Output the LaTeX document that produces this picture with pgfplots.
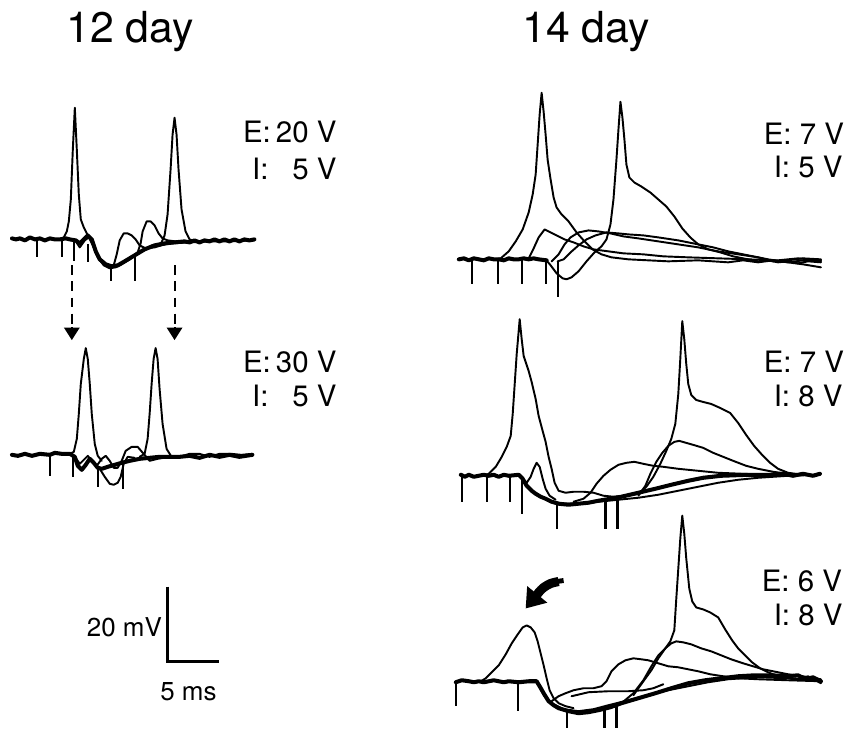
\documentclass[border=0pt]{standalone}
\usepackage{pgfplots}
\pgfplotsset{compat=1.18}
\usetikzlibrary{arrows.meta}
\usepackage{fontspec}
\setmainfont{TeX Gyre Heros}
\pgfplotsset{
  tr/.style={black, line width=0.55pt, line join=round, line cap=round, mark=none},
  trb/.style={black, line width=1.15pt, line join=round, line cap=round, mark=none},
  stim/.style={black, line width=0.6pt, mark=none},
}
\newcommand{\lab}[3]{\node[anchor=base west, inner sep=0pt, font=\fontsize{8.4}{10}\selectfont] at (axis cs:#1,#2) {#3};}
\newcommand{\labr}[3]{\node[anchor=base east, inner sep=0pt, font=\fontsize{8.4}{10}\selectfont] at (axis cs:#1,#2) {#3};}
\newcommand{\stimtick}[3]{\addplot[stim] coordinates {(#1,#2) (#1,#3)};}
\begin{document}
\begin{tikzpicture}
\begin{axis}[
  width=8.44cm, height=7.30cm, scale only axis,
  xmin=0, xmax=844, ymin=0, ymax=730, y dir=reverse,
  hide axis, clip=false,
]
\addplot[draw=none] coordinates {(0,0) (844,730)};

% ================= 12 day, top =================
\addplot[trb] coordinates {(12,239) (16,240) (20,239) (25,241) (30,238) (35,240) (40,239) (45,241) (50,239) (55,240) (60,240) (66,239) (70,240) (76,241) (80,244) (84,240) (88,236) (92,240) (96,252) (100,260) (106,265) (112,267) (118,266) (125,262) (135,256) (145,250) (155,246) (165,244) (175,243) (185,242) (190,243) (195,241) (200,243) (205,241) (210,242) (215,240) (220,242) (225,240) (230,242) (235,240) (240,242) (245,240) (250,241) (255,240)};
\addplot[tr] coordinates {(76,242) (80,248) (85,241) (89,238) (93,246) (98,258) (104,266) (110,269) (116,268) (122,265) (130,260) (140,253) (150,248) (160,246) (172,244) (190,243) (210,242) (230,242) (255,241)};
\addplot[tr] coordinates {(60,240) (64,238) (67,232) (69,222) (71,200) (73,150) (75,108) (77,150) (79,195) (81,220) (84,228) (88,236) (92,242) (96,252)};
\addplot[tr] coordinates {(152,246) (158,246) (162,243) (165,236) (168,215) (171,170) (173,135) (175,118) (177,135) (179,170) (182,210) (186,232) (190,240) (196,242)};
\addplot[tr] coordinates {(108,268) (114,266) (117,255) (120,241) (124,234) (128,234) (132,236) (136,240) (140,246) (146,249) (155,248) (165,245)};
\addplot[tr] coordinates {(118,266) (130,260) (138,253) (141,244) (143,232) (147,222) (151,222) (155,226) (159,234) (163,239) (168,241) (176,242)};
\stimtick{37}{240}{258}
\stimtick{62}{240}{258}
\stimtick{74}{241}{262}
\stimtick{88}{245}{263}
\stimtick{111}{267}{282}
\stimtick{135}{255}{282}
% dashed arrows
\addplot[black, line width=0.6pt, dash pattern=on 2.8pt off 1.8pt, mark=none] coordinates {(72,266) (72,330)};
\addplot[black, line width=0.6pt, dash pattern=on 2.8pt off 1.8pt, mark=none] coordinates {(175,266) (175,330)};
\addplot[black, line width=0.6pt, -{Triangle[length=3.6pt,width=4.4pt]}, mark=none] coordinates {(72,328) (72,341)};
\addplot[black, line width=0.6pt, -{Triangle[length=3.6pt,width=4.4pt]}, mark=none] coordinates {(175,328) (175,341)};
\lab{243}{143}{E:}
\labr{338}{143}{20 V}
\lab{252}{180}{I:}
\labr{338}{180}{5 V}

% ================= 12 day, bottom =================
\addplot[trb] coordinates {(12,456) (18,457) (25,455) (32,457) (40,455) (50,456) (55,454) (62,455) (70,455) (75,458) (78,467) (82,471) (86,466) (90,460) (94,464) (98,469) (102,470) (108,468) (115,466) (122,464) (130,462) (140,460) (150,459) (160,458) (170,458) (180,458) (190,457) (200,459) (210,456) (220,458) (230,456) (240,458) (253,456)};
\addplot[tr] coordinates {(180,458) (190,455) (200,455) (210,458) (220,455) (232,455) (242,456) (253,455)};
\addplot[tr] coordinates {(70,455) (74,453) (77,440) (79,415) (81,385) (84,360) (86,349) (88,360) (90,385) (92,415) (95,445) (98,457) (102,462)};
\addplot[tr] coordinates {(140,458) (145,455) (148,440) (150,415) (152,385) (154,360) (156,349) (158,360) (160,390) (163,425) (167,450) (172,458) (178,459)};
\addplot[tr] coordinates {(75,458) (80,465) (85,460) (88,457) (92,462) (97,467) (102,460) (106,457) (110,462) (114,469) (118,469) (122,462) (126,452) (132,448) (138,448) (144,455) (150,462) (158,460) (170,458)};
\addplot[tr] coordinates {(95,466) (100,470) (105,478) (110,485) (114,486) (118,484) (121,478) (124,465) (128,458) (135,459)};
\stimtick{50}{456}{477}
\stimtick{73}{455}{478}
\stimtick{98}{470}{488}
\stimtick{123}{464}{490}
\lab{243}{373}{E:}
\labr{338}{373}{30 V}
\lab{252}{408}{I:}
\labr{338}{408}{5 V}

% ================= scale bar =================
\addplot[black, line width=0.8pt, mark=none] coordinates {(168,588) (168,663) (220,663)};
\node[anchor=base east, inner sep=0pt, font=\fontsize{7.4}{9}\selectfont] at (axis cs:163,638) {20 mV};
\node[anchor=base west, inner sep=0pt, font=\fontsize{7.4}{9}\selectfont] at (axis cs:160,702) {5 ms};

% ================= 14 day, top =================
\addplot[trb] coordinates {(460,260) (465,259) (470,261) (475,259) (480,260) (485,261) (490,259) (495,260) (500,260) (505,261) (510,259) (515,260) (520,260) (525,259) (530,260) (535,259) (540,260) (548,261)};
\addplot[tr] coordinates {(495,260) (502,259) (510,252) (517,242) (524,230) (530,213) (534,195) (537,175) (539,145) (541,115) (543,93) (545,112) (547,135) (549,160) (552,180) (555,198) (558,208) (563,215) (570,222) (578,233) (586,242) (594,250) (603,255) (613,258) (630,260) (650,261) (670,262) (700,261) (730,263) (745,261) (760,263) (775,261) (790,263) (805,261) (823,262)};
\addplot[tr] coordinates {(547,260) (552,266) (558,274) (564,279) (568,280) (573,278) (580,272) (588,262) (596,253) (603,247) (608,240) (612,225) (615,200) (618,160) (620,130) (622,102) (624,118) (626,140) (628,165) (631,178) (636,183) (643,187) (652,193) (660,200) (668,207) (676,217) (684,229) (692,238) (700,245) (710,250) (722,253) (735,257) (750,260) (760,262) (770,261) (780,263) (790,262) (800,264) (810,262) (823,263)};
\addplot[tr] coordinates {(525,260) (530,259) (535,249) (540,238) (546,230) (550,232) (558,236) (566,240) (575,243) (585,247) (595,250) (610,252) (625,254) (645,255) (665,257) (690,258) (720,259) (750,260) (780,261) (800,259) (823,261)};
\addplot[tr] coordinates {(553,262) (560,255) (566,245) (572,238) (580,233) (590,231) (600,232) (612,234) (625,237) (640,239) (660,242) (680,245) (700,248) (720,252) (740,255) (760,258) (775,262) (790,261) (805,259) (823,260)};
\addplot[tr] coordinates {(559,262) (565,260) (572,253) (580,246) (588,240) (597,236) (608,233) (620,234) (630,235) (645,236) (660,238) (680,241) (700,245) (715,248) (730,252) (750,256) (770,260) (790,263) (805,265) (823,268)};
\stimtick{473}{260}{285}
\stimtick{499}{260}{285}
\stimtick{523}{260}{285}
\stimtick{547}{260}{285}
\stimtick{559}{262}{298}
\lab{765}{145}{E: 7 V}
\lab{775}{178}{I: 5 V}

% ================= 14 day, middle =================
\addplot[trb] coordinates {(462,476) (466,478) (470,476) (475,478) (480,477) (485,476) (490,477) (495,476) (500,478) (505,476) (510,477) (520,476) (524,480) (528,487) (533,492) (537,495) (542,498) (547,500) (553,503) (560,505) (570,506) (580,505) (590,504) (600,502) (612,500) (623,498) (640,494) (657,490) (673,486) (690,482) (705,479) (723,477) (750,476) (773,476) (785,475) (795,477) (805,475) (815,477) (822,475)};
\addplot[tr] coordinates {(528,487) (537,496) (550,502) (565,505) (580,505) (600,503) (620,501) (640,499) (660,496) (680,492) (700,488) (720,484) (740,481) (760,479) (790,477) (822,476)};
\addplot[tr] coordinates {(485,477) (490,475) (497,468) (503,458) (508,448) (512,437) (514,415) (516,385) (518,355) (521,320) (523,340) (525,357) (527,363) (530,372) (533,383) (537,400) (540,417) (544,432) (547,443) (550,458) (553,470) (556,484) (560,492) (567,494) (575,493) (585,493) (595,494) (605,497) (615,498) (625,497)};
\addplot[tr] coordinates {(524,480) (528,484) (532,478) (535,470) (538,464) (541,468) (544,480) (547,490) (551,497) (557,501)};
\addplot[tr] coordinates {(575,503) (585,500) (592,494) (598,485) (605,477) (612,471) (620,466) (628,464) (636,463) (645,465) (655,467) (665,468) (680,470) (700,472) (720,474) (745,475) (770,476)};
\addplot[tr] coordinates {(630,497) (640,495) (648,488) (655,478) (662,465) (668,452) (673,440) (677,425) (680,395) (682,360) (684,322) (686,340) (688,365) (690,385) (693,396) (698,401) (705,403) (713,405) (722,409) (732,414) (740,424) (748,436) (756,447) (764,456) (772,464) (780,470) (790,474) (805,476) (822,476)};
\addplot[tr] coordinates {(640,497) (647,487) (652,475) (658,463) (664,454) (670,447) (676,443) (681,442) (688,444) (695,446) (705,449) (715,454) (725,458) (735,462) (748,467) (760,470) (775,473) (790,475)};
\stimtick{463}{477}{503}
\stimtick{488}{477}{503}
\stimtick{511}{477}{503}
\stimtick{523}{478}{515}
\stimtick{558}{503}{530}
\stimtick{607}{501}{530}
\stimtick{619}{498}{530}
\lab{765}{373}{E: 7 V}
\lab{775}{408}{I: 8 V}

% ================= 14 day, bottom =================
\addplot[trb] coordinates {(457,684) (463,682) (470,683) (475,684) (480,683) (485,684) (490,683) (495,682) (500,683) (505,684) (510,683) (520,684) (530,683) (538,683) (541,688) (545,695) (550,703) (555,707) (560,710) (570,713) (580,715) (590,714) (600,712) (612,709) (623,705) (640,700) (657,695) (673,690) (690,685) (707,682) (723,680) (740,678) (757,677) (773,677) (790,678) (800,677) (808,681) (815,679) (823,683)};
\addplot[tr] coordinates {(545,697) (553,705) (565,711) (580,713) (595,711) (610,707) (630,702) (650,697) (670,692) (690,688) (710,684) (730,681) (760,679) (790,680) (800,682) (810,678) (823,685)};
\addplot[tr] coordinates {(482,683) (487,680) (493,674) (500,667) (507,656) (513,645) (519,636) (524,629) (528,627) (532,629) (536,634) (539,643) (542,655) (545,667) (548,680) (551,692) (555,700) (560,705) (567,708) (575,710)};
\addplot[tr] coordinates {(553,703) (560,698) (567,695) (575,692) (585,690) (595,690) (603,688) (608,683) (613,673) (620,666) (627,662) (635,660) (643,661) (650,662) (660,665) (670,668) (680,669) (690,671) (700,673) (712,676) (725,678) (740,680) (760,681) (790,682) (823,683)};
\addplot[tr] coordinates {(573,698) (590,694) (610,693) (630,693) (645,692) (655,690) (665,686)};
\addplot[tr] coordinates {(623,705) (635,695) (645,682) (653,668) (660,657) (667,650) (672,643) (676,632) (678,600) (680,570) (682,540) (684,517) (686,535) (688,560) (691,590) (694,603) (698,609) (705,611) (712,614) (720,619) (727,631) (734,642) (740,650) (747,657) (754,664) (762,670) (770,674) (780,678) (795,680) (810,681) (823,683)};
\addplot[tr] coordinates {(635,697) (645,683) (653,672) (660,660) (667,650) (673,645) (678,643) (685,644) (693,646) (703,650) (713,653) (723,657) (733,661) (745,665) (755,668) (765,671) (775,673) (790,676) (805,678) (823,681)};
\stimtick{457}{683}{708}
\stimtick{519}{683}{713}
\stimtick{568}{712}{730}
\stimtick{606}{710}{730}
\stimtick{618}{707}{730}
% curved arrow
\addplot[black, line width=1.4pt, smooth, mark=none] coordinates {(565,582) (558,583)};
\addplot[black, line width=2.6pt, smooth, mark=none] coordinates {(560,583) (552,585) (545,589) (540,594) (538,597)};
\addplot[black, line width=1pt, -{Triangle[length=5.2pt,width=7.2pt]}, mark=none] coordinates {(541,593) (527,610)};
\lab{763}{593}{E: 6 V}
\lab{775}{627}{I: 8 V}

% ================= titles =================
\node[anchor=base west, inner sep=0pt, font=\fontsize{12.2}{14}\selectfont] at (axis cs:66,43) {12 day};
\node[anchor=base west, inner sep=0pt, font=\fontsize{12.2}{14}\selectfont] at (axis cs:523,43) {14 day};
\end{axis}
\end{tikzpicture}
\end{document}
